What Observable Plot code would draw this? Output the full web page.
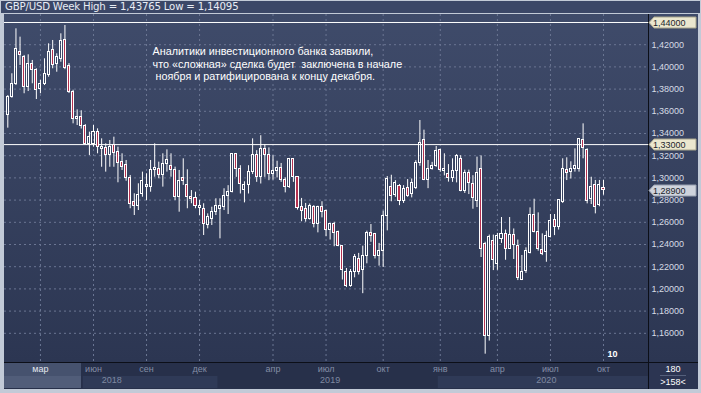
<!DOCTYPE html>
<html><head><meta charset="utf-8">
<script src="https://cdn.jsdelivr.net/npm/d3@7"></script>
<script src="https://cdn.jsdelivr.net/npm/@observablehq/plot@0.6"></script>
<style>
html,body{margin:0;padding:0;background:#c2cad7;}
#wrap{position:relative;width:701px;height:393px;overflow:hidden;background:#c2cad7;}
#title{position:absolute;left:1px;top:1px;width:699px;height:12px;background:#3b4767;color:#e8ecf4;font:10.2px "DejaVu Sans",Verdana,sans-serif;line-height:12px;padding-left:4px;box-sizing:border-box;white-space:pre;letter-spacing:-0.2px;}
#chart{position:absolute;left:0;top:0;}
</style></head><body><div id="wrap"><div id="title"></div><div id="chart"></div></div>
<script>
const title = "GBP/USD Week High = 1,43765 Low = 1,14095";
const open = [1.3568,1.3727,1.3848,1.4133,1.4087,1.3817,1.4028,1.3968,1.3797,1.3848,1.3929,1.4148,1.4028,1.4073,1.4238,1.4006,1.3778,1.3532,1.3547,1.3472,1.3301,1.3307,1.3412,1.3262,1.3271,1.3208,1.3298,1.3232,1.3141,1.3112,1.3001,1.2781,1.2743,1.2851,1.2917,1.2917,1.3067,1.3076,1.3022,1.3127,1.3103,1.3067,1.2826,1.3001,1.2932,1.2832,1.2820,1.2731,1.2722,1.2580,1.2631,1.2691,1.2722,1.2736,1.2841,1.2871,1.3211,1.3082,1.2887,1.2932,1.3052,1.3202,1.3005,1.3260,1.3210,1.3035,1.3065,1.3085,1.2985,1.2920,1.3170,1.3005,1.2736,1.2724,1.2634,1.2736,1.2589,1.2739,1.2706,1.2532,1.2586,1.2511,1.2385,1.2153,1.2030,1.2153,1.2273,1.2168,1.2294,1.2508,1.2493,1.2298,1.2343,1.2658,1.2922,1.2847,1.2928,1.2796,1.2913,1.2853,1.2913,1.3130,1.3337,1.2982,1.3078,1.3108,1.3247,1.3063,1.3033,1.2997,1.3063,1.3168,1.2883,1.3048,1.2943,1.2793,1.3078,1.2403,1.1577,1.2433,1.2228,1.2451,1.2496,1.2361,1.2490,1.2391,1.2076,1.2160,1.2325,1.2664,1.2511,1.2346,1.2331,1.2466,1.2625,1.2556,1.2781,1.3073,1.3052,1.3082,1.3082,1.3343,1.3247,1.2812,1.2932,1.2752,1.2908];
const high = [1.3742,1.3938,1.4343,1.4268,1.4103,1.4109,1.4058,1.3983,1.3878,1.4073,1.4208,1.4238,1.4118,1.4298,1.4373,1.4030,1.3790,1.3613,1.3605,1.3480,1.3412,1.3472,1.3442,1.3352,1.3307,1.3337,1.3367,1.3277,1.3217,1.3157,1.3022,1.2857,1.2947,1.3052,1.3037,1.3157,1.3307,1.3142,1.3217,1.3253,1.3217,1.3097,1.3067,1.3172,1.3073,1.2886,1.2871,1.2796,1.2767,1.2676,1.2736,1.2812,1.2812,1.2902,1.2930,1.3218,1.3215,1.3110,1.2965,1.3110,1.3352,1.3245,1.3380,1.3300,1.3270,1.3200,1.3150,1.3130,1.3000,1.3175,1.3175,1.3005,1.2815,1.2770,1.2765,1.2750,1.2745,1.2785,1.2710,1.2590,1.2600,1.2520,1.2390,1.2184,1.2175,1.2310,1.2320,1.2385,1.2520,1.2580,1.2500,1.2410,1.2700,1.3012,1.3024,1.2975,1.2940,1.2930,1.2985,1.2990,1.3155,1.3517,1.3430,1.3157,1.3140,1.3283,1.3260,1.3217,1.3120,1.3172,1.3210,1.3200,1.3070,1.3070,1.3020,1.3187,1.3198,1.2420,1.2485,1.2485,1.2500,1.2643,1.2530,1.2643,1.2540,1.2440,1.2301,1.2370,1.2730,1.2808,1.2685,1.2496,1.2520,1.2670,1.2670,1.2802,1.3172,1.3181,1.3145,1.3262,1.3352,1.3487,1.3262,1.3006,1.2977,1.2977,1.2977];
const low = [1.3448,1.3718,1.3832,1.4013,1.3758,1.3778,1.3848,1.3706,1.3758,1.3832,1.3907,1.3983,1.3952,1.4042,1.3975,1.3760,1.3487,1.3472,1.3440,1.3295,1.3202,1.3277,1.3217,1.3096,1.3052,1.3096,1.3096,1.2956,1.3067,1.2970,1.2722,1.2661,1.2706,1.2826,1.2796,1.2871,1.3006,1.2992,1.2917,1.3052,1.3006,1.2796,1.2691,1.2932,1.2722,1.2767,1.2722,1.2661,1.2481,1.2541,1.2571,1.2661,1.2451,1.2706,1.2670,1.2865,1.3005,1.2855,1.2775,1.2855,1.3030,1.2960,1.2945,1.3005,1.2975,1.2980,1.3000,1.2960,1.2865,1.2905,1.2960,1.2710,1.2605,1.2601,1.2620,1.2550,1.2505,1.2640,1.2470,1.2440,1.2380,1.2380,1.2080,1.2012,1.2015,1.2100,1.2125,1.1957,1.2226,1.2420,1.2270,1.2205,1.2193,1.2523,1.2785,1.2825,1.2750,1.2770,1.2825,1.2820,1.2895,1.3105,1.2975,1.2903,1.3070,1.3095,1.3050,1.3018,1.2962,1.2960,1.2955,1.2875,1.2860,1.2850,1.2718,1.2733,1.2283,1.1412,1.1530,1.2165,1.2168,1.2410,1.2258,1.2355,1.2265,1.2075,1.2075,1.2140,1.2315,1.2505,1.2340,1.2300,1.2240,1.2460,1.2480,1.2530,1.2770,1.2976,1.2990,1.3052,1.3052,1.3172,1.2766,1.2760,1.2676,1.2740,1.2844];
const close = [1.3727,1.3848,1.4163,1.4109,1.3817,1.4028,1.3968,1.3796,1.3848,1.3938,1.4133,1.4013,1.4087,1.4229,1.3992,1.3772,1.3532,1.3547,1.3472,1.3301,1.3367,1.3412,1.3277,1.3277,1.3208,1.3277,1.3226,1.3136,1.3096,1.3001,1.2767,1.2751,1.2848,1.2968,1.2932,1.3067,1.3085,1.3022,1.3127,1.3157,1.3073,1.2826,1.2968,1.2970,1.2826,1.2812,1.2743,1.2743,1.2587,1.2646,1.2691,1.2751,1.2743,1.2841,1.2871,1.3211,1.3082,1.2941,1.2932,1.3052,1.3202,1.3005,1.3260,1.3210,1.3035,1.3065,1.3085,1.2985,1.2920,1.3170,1.3005,1.2725,1.2706,1.2634,1.2745,1.2583,1.2739,1.2691,1.2532,1.2586,1.2506,1.2385,1.2168,1.2027,1.2153,1.2288,1.2153,1.2294,1.2508,1.2478,1.2298,1.2343,1.2658,1.2994,1.2838,1.2952,1.2793,1.2902,1.2838,1.2958,1.3130,1.3310,1.2982,1.3078,1.3108,1.3243,1.3073,1.3078,1.2997,1.3063,1.3198,1.2883,1.3048,1.2952,1.2817,1.3048,1.2358,1.1577,1.2468,1.2258,1.2478,1.2496,1.2361,1.2490,1.2400,1.2099,1.2153,1.2340,1.2664,1.2514,1.2355,1.2316,1.2481,1.2616,1.2562,1.2802,1.3082,1.3043,1.3082,1.3103,1.3352,1.3271,1.2796,1.2922,1.2736,1.2932,1.2890];
const yTicks = [1.16,1.18,1.20,1.22,1.24,1.26,1.28,1.30,1.32,1.34,1.36,1.38,1.40,1.42];
const monthIdx = [8,21,34,47,65,78,92,106,120,133,146];
const monthLab = ["мар","июн","сен","дек","апр","июл","окт","янв","апр","июл","окт"];
const yearIdx = [25.5,79,132];
const yearLab = ["2018","2019","2020"];
const yearStart = [18.5,51.5,105.5,157];
const levels = [1.44,1.33];
const lastPrice = 1.289;
const note = ["Аналитики инвестиционного банка заявили,","что «сложная» сделка будет  заключена в начале","\u00a0ноября и ратифицирована к концу декабря."];
const counters = ["180", ">158<"];
const fmt = v => v.toFixed(5).replace(".", ",");

document.getElementById("title").textContent = title;
const bars = open.map((o,i)=>({i,o,h:high[i],l:low[i],c:close[i],up:close[i]>=o}));
const FONT = "Liberation Sans, Arial, sans-serif";

const plot = Plot.plot({
  width:701, height:393, marginLeft:4, marginRight:53, marginTop:14, marginBottom:31,
  style:{background:"transparent", color:"#d6dbe5", fontFamily:FONT, fontSize:"9px", overflow:"visible"},
  x:{type:"linear", domain:[-0.81,157.03], axis:null},
  y:{domain:[1.1337,1.4472], axis:null},
  marks:[
    Plot.gridY(yTicks,{stroke:"#6b7693", strokeOpacity:1, strokeDasharray:"2,3"}),
    Plot.gridX(monthIdx,{stroke:"#6b7693", strokeOpacity:1, strokeDasharray:"2,3"}),
    Plot.ruleY(levels,{stroke:"#ffffff", strokeWidth:1}),
    Plot.ruleX(bars,{x:"i", y1:d=>Math.max(d.o,d.c), y2:"h", stroke:"#ffffff"}),
    Plot.ruleX(bars,{x:"i", y1:"l", y2:d=>Math.min(d.o,d.c), stroke:"#ffffff"}),
    Plot.rect(bars.filter(d=>d.up),{x1:d=>d.i-0.25, x2:d=>d.i+0.25, y1:"o", y2:"c", fill:"none", stroke:"#ffffff", shapeRendering:"crispEdges"}),
    Plot.rect(bars.filter(d=>!d.up),{x1:d=>d.i-0.25, x2:d=>d.i+0.25, y1:"o", y2:"c", fill:"#b3304f", stroke:"#ffffff", shapeRendering:"crispEdges"}),
    Plot.axisY(yTicks,{anchor:"right", tickSize:0, tickPadding:3, tickFormat:fmt, fontSize:9, fill:"#d6dbe5"}),
    Plot.text(monthIdx,{x:d=>d, text:(d,i)=>monthLab[i], frameAnchor:"bottom", dy:9, fill:(d,i)=>i===0?"#e4e8f0":"#838da5", fontSize:9}),
    Plot.text(yearIdx,{x:d=>d, text:(d,i)=>yearLab[i], frameAnchor:"bottom", dy:20, fill:"#7f89a1", fontSize:9}),
    Plot.text([note.join("\n")],{frameAnchor:"top-left", dx:148, dy:32, textAnchor:"start", lineAnchor:"top", lineHeight:1.14, fontSize:10.8, fill:"#ffffff"}),
    Plot.text(["10"],{frameAnchor:"bottom-right", dx:-31, dy:-6, fontSize:9, fontWeight:"bold", fill:"#ffffff"})
  ]
});
document.getElementById("chart").appendChild(plot);

// backgrounds and price tags, positioned through Plot's scales
const sx = plot.scale("x"), sy = plot.scale("y");
const svg = d3.select(plot);
const L=4, R=648, T=14, B=362, W=701, H=393;
const defs = svg.insert("defs",":first-child");
const g = defs.append("linearGradient").attr("id","bg").attr("x1",0).attr("y1",0).attr("x2",0).attr("y2",1);
g.append("stop").attr("offset","0").attr("stop-color","#3f4b6a");
g.append("stop").attr("offset","1").attr("stop-color","#2c3652");
const bg = svg.insert("g","defs + *");
bg.append("rect").attr("x",L).attr("y",T).attr("width",R-L).attr("height",B-T).attr("fill","url(#bg)");
bg.append("rect").attr("x",R+1).attr("y",T).attr("width",W-3-R-1).attr("height",B-T).attr("fill","url(#bg)");
bg.append("rect").attr("x",L).attr("y",B+1).attr("width",R-L).attr("height",H-4-B-1).attr("fill","#27304a");
for (let k=0;k<3;k++){
  const x0 = Math.max(L+78, sx.apply(yearStart[k])), x1 = Math.min(R, sx.apply(yearStart[k+1]));
  if (k!==1) bg.append("rect").attr("x",x0).attr("y",B+14).attr("width",x1-x0).attr("height",12).attr("fill","#2f3a57");
}
bg.append("rect").attr("x",L).attr("y",B+1).attr("width",77).attr("height",13).attr("fill","#46526e");
bg.append("rect").attr("x",L).attr("y",B+14).attr("width",77).attr("height",12).attr("fill","#515d79");
bg.append("rect").attr("x",R+1).attr("y",B+1).attr("width",W-3-R-1).attr("height",H-4-B-1).attr("fill","#2c3552");
bg.append("line").attr("x1",R+0.5).attr("x2",R+0.5).attr("y1",T).attr("y2",H-4).attr("stroke","#0c0f18");
bg.append("line").attr("x1",L).attr("x2",W-3).attr("y1",B+0.5).attr("y2",B+0.5).attr("stroke","#0c0f18");
bg.append("line").attr("x1",R+12).attr("x2",R+38).attr("y1",B+13.5).attr("y2",B+13.5).attr("stroke","#55607c");

const tags = svg.append("g");
[[levels[0],"#ebe7cf","#a8a58c"],[levels[1],"#ebe7cf","#a8a58c"],[lastPrice,"#cfd3dc","#98a0b0"]].forEach(([v,f,s])=>{
  const y = Math.round(sy.apply(v))+0.5;
  tags.append("path").attr("d",`M${R+1},${y} L${R+6},${y-5.5} L${W-5},${y-5.5} L${W-5},${y+5.5} L${R+6},${y+5.5} Z`).attr("fill",f).attr("stroke",s);
  tags.append("text").attr("x",R+5).attr("y",y+3.2).attr("text-anchor","start").attr("font-size",9).attr("font-family",FONT).attr("fill","#1b1f2b").text(fmt(v));
});
const ct = svg.append("g").attr("font-family",FONT).attr("font-size",9).attr("fill","#ffffff").attr("text-anchor","middle");
ct.append("text").attr("x",R+25).attr("y",B+10).text(counters[0]);
ct.append("text").attr("x",R+25).attr("y",B+23).text(counters[1]);
</script></body></html>
